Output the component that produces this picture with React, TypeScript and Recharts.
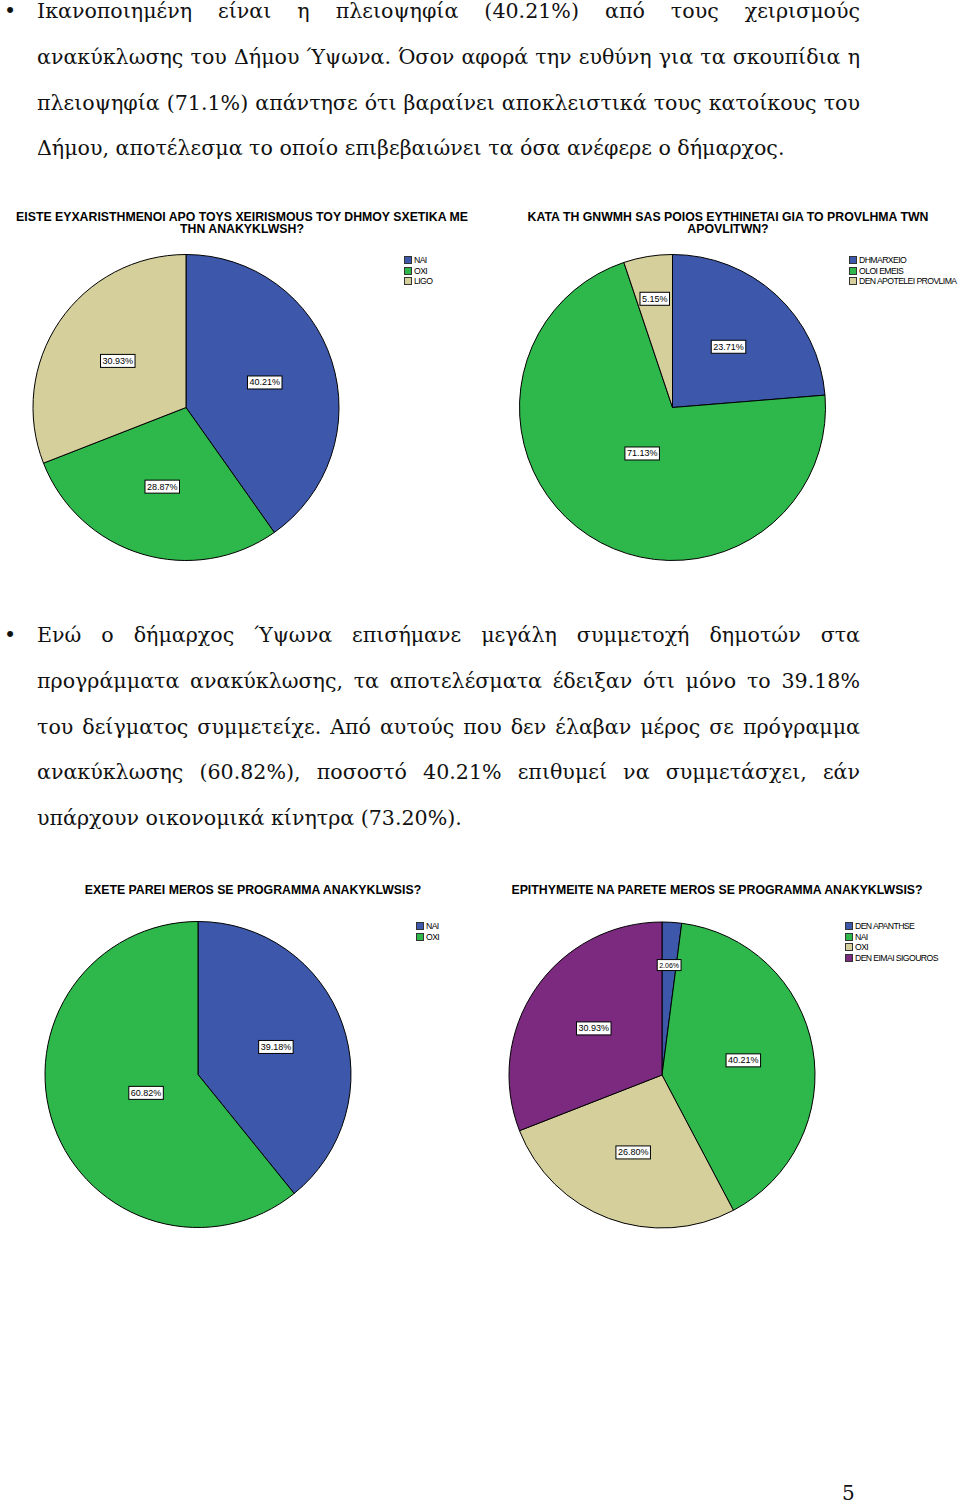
import React from 'react';
import { PieChart, Pie, Cell, Legend } from 'recharts';

// chart 1
const satisfiedNames = ['NAI', 'OXI', 'LIGO'];
const satisfiedValues = [40.21, 28.87, 30.93];
// chart 2
const blameNames = ['DHMARXEIO', 'OLOI EMEIS', 'DEN APOTELEI PROVLIMA'];
const blameValues = [23.71, 71.13, 5.15];
// chart 3
const joinedNames = ['NAI', 'OXI'];
const joinedValues = [39.18, 60.82];
// chart 4
const wishNames = ['DEN APANTHSE', 'NAI', 'OXI', 'DEN EIMAI SIGOUROS'];
const wishValues = [2.06, 40.21, 26.8, 30.93];

const BLUE = '#3d58ab';
const GREEN = '#2eb84b';
const TAN = '#d5cf9c';
const PURPLE = '#7b2a80';

const para1 = [
  'Ικανοποιημένη είναι η πλειοψηφία (40.21%) από τους χειρισμούς',
  'ανακύκλωσης του Δήμου Ύψωνα. Όσον αφορά την ευθύνη για τα σκουπίδια η',
  'πλειοψηφία (71.1%) απάντησε ότι βαραίνει αποκλειστικά τους κατοίκους του',
  'Δήμου, αποτέλεσμα το οποίο επιβεβαιώνει τα όσα ανέφερε ο δήμαρχος.',
];
const para2 = [
  'Ενώ ο δήμαρχος Ύψωνα επισήμανε μεγάλη συμμετοχή δημοτών στα',
  'προγράμματα ανακύκλωσης, τα αποτελέσματα έδειξαν ότι μόνο το 39.18%',
  'του δείγματος συμμετείχε. Από αυτούς που δεν έλαβαν μέρος σε πρόγραμμα',
  'ανακύκλωσης (60.82%), ποσοστό 40.21% επιθυμεί να συμμετάσχει, εάν',
  'υπάρχουν οικονομικά κίνητρα (73.20%).',
];

const RADIAN = Math.PI / 180;
const SANS = '"Liberation Sans", Arial, sans-serif';
const SERIF = '"DejaVu Serif", "Liberation Serif", serif';

const renderLabel = (props: any) => {
  const { cx, cy, midAngle, outerRadius, percent, value } = props;
  const f = percent < 0.06 ? 0.72 : percent > 0.5 ? 0.36 : 0.54;
  const r = outerRadius * f;
  const x = cx + r * Math.cos(-midAngle * RADIAN);
  const y = cy + r * Math.sin(-midAngle * RADIAN);
  const text = Number(value).toFixed(2) + '%';
  const fs = percent < 0.03 ? 7 : 9;
  const w = (text.length - 2) * 0.556 * fs + 0.278 * fs + 0.889 * fs + 4;
  const h = fs + 4;
  return (
    <g>
      <rect x={x - w / 2} y={y - h / 2} width={w} height={h} fill="#fff" stroke="#000" strokeWidth={1} />
      <text x={x} y={y} textAnchor="middle" dominantBaseline="central" fontSize={fs} fontFamily={SANS} fill="#000">
        {text}
      </text>
    </g>
  );
};

const LegendList = ({ names, colors }: { names: string[]; colors: string[] }) => (
  <div>
    {names.map((n, i) => (
      <div key={i} style={{ display: 'flex', alignItems: 'center', height: 10.5, whiteSpace: 'nowrap' }}>
        <span style={{ flex: 'none', width: 8, height: 8, boxSizing: 'border-box', background: colors[i], border: '1px solid #333', marginRight: 2 }} />
        <span style={{ fontFamily: SANS, fontSize: 8.7, letterSpacing: -0.6, color: '#000', lineHeight: '10px' }}>{n}</span>
      </div>
    ))}
  </div>
);

interface BlockProps {
  left: number;
  top: number;
  cx: number;
  cy: number;
  title: string[];
  titleCenter: number;
  titleTop: number;
  legendLeft: number;
  legendTop: number;
  names: string[];
  values: number[];
  colors: string[];
}

const PieBlock: React.FC<BlockProps> = (p) => {
  const data = p.names.map((n, i) => ({ name: n, value: p.values[i], fill: p.colors[i] }));
  return (
    <div style={{ position: 'absolute', left: p.left, top: p.top, width: 480, height: 420 }}>
      <div
        style={{
          position: 'absolute',
          left: p.titleCenter - 250,
          width: 500,
          top: p.titleTop,
          textAlign: 'center',
          fontFamily: SANS,
          fontWeight: 'bold',
          fontSize: 12.3,
          lineHeight: '12px',
          color: '#000',
        }}
      >
        {p.title.map((t, i) => (
          <div key={i}>{t}</div>
        ))}
      </div>
      <PieChart width={480} height={420} margin={{ top: 0, right: 0, bottom: 0, left: 0 }}>
        <Pie
          data={data}
          dataKey="value"
          nameKey="name"
          cx={p.cx}
          cy={p.cy}
          outerRadius={153}
          startAngle={90}
          endAngle={-270}
          stroke="#000"
          strokeWidth={1}
          label={renderLabel}
          labelLine={false}
          isAnimationActive={false}
        >
          {data.map((d, i) => (
            <Cell key={i} fill={d.fill} />
          ))}
        </Pie>
        <Legend
          layout="vertical"
          align="right"
          verticalAlign="top"
          content={() => <LegendList names={p.names} colors={p.colors} />}
          wrapperStyle={{ left: p.legendLeft, top: p.legendTop, width: 'auto', right: 'auto' }}
        />
      </PieChart>
    </div>
  );
};

const Paragraph = ({ lines, top }: { lines: string[]; top: number }) => (
  <div style={{ position: 'absolute', left: 37, top, width: 823, fontFamily: SERIF, fontSize: 20.6, lineHeight: '45.8px', color: '#111' }}>
    <span style={{ position: 'absolute', left: -33, top: 0 }}>•</span>
    {lines.map((l, i) => (
      <div
        key={i}
        style={{
          textAlign: i < lines.length - 1 ? 'justify' : 'left',
          textAlignLast: i < lines.length - 1 ? 'justify' : 'left',
          whiteSpace: 'nowrap',
        }}
      >
        {l}
      </div>
    ))}
  </div>
);

export default function App() {
  return (
    <div style={{ position: 'absolute', left: 0, top: 0, width: 960, height: 1505, background: '#fff', overflow: 'hidden' }}>
      <Paragraph lines={para1} top={-11} />
      <PieBlock
        left={0}
        top={195}
        cx={186}
        cy={212.5}
        title={['EISTE EYXARISTHMENOI APO TOYS XEIRISMOUS TOY DHMOY SXETIKA ME', 'THN ANAKYKLWSH?']}
        titleCenter={242}
        titleTop={16}
        legendLeft={404}
        legendTop={60}
        names={satisfiedNames}
        values={satisfiedValues}
        colors={[BLUE, GREEN, TAN]}
      />
      <PieBlock
        left={480}
        top={195}
        cx={192.5}
        cy={212.5}
        title={['KATA TH GNWMH SAS POIOS EYTHINETAI GIA TO PROVLHMA TWN', 'APOVLITWN?']}
        titleCenter={248}
        titleTop={16}
        legendLeft={369}
        legendTop={60}
        names={blameNames}
        values={blameValues}
        colors={[BLUE, GREEN, TAN]}
      />
      <Paragraph lines={para2} top={613} />
      <PieBlock
        left={0}
        top={865}
        cx={198}
        cy={209.5}
        title={['EXETE PAREI MEROS SE PROGRAMMA ANAKYKLWSIS?']}
        titleCenter={253}
        titleTop={19}
        legendLeft={416}
        legendTop={56}
        names={joinedNames}
        values={joinedValues}
        colors={[BLUE, GREEN]}
      />
      <PieBlock
        left={480}
        top={865}
        cx={182}
        cy={210}
        title={['EPITHYMEITE NA PARETE MEROS SE PROGRAMMA ANAKYKLWSIS?']}
        titleCenter={237}
        titleTop={19}
        legendLeft={365}
        legendTop={56}
        names={wishNames}
        values={wishValues}
        colors={[BLUE, GREEN, TAN, PURPLE]}
      />
      <div style={{ position: 'absolute', left: 842, top: 1481, fontFamily: SERIF, fontSize: 20, color: '#111' }}>5</div>
    </div>
  );
}
